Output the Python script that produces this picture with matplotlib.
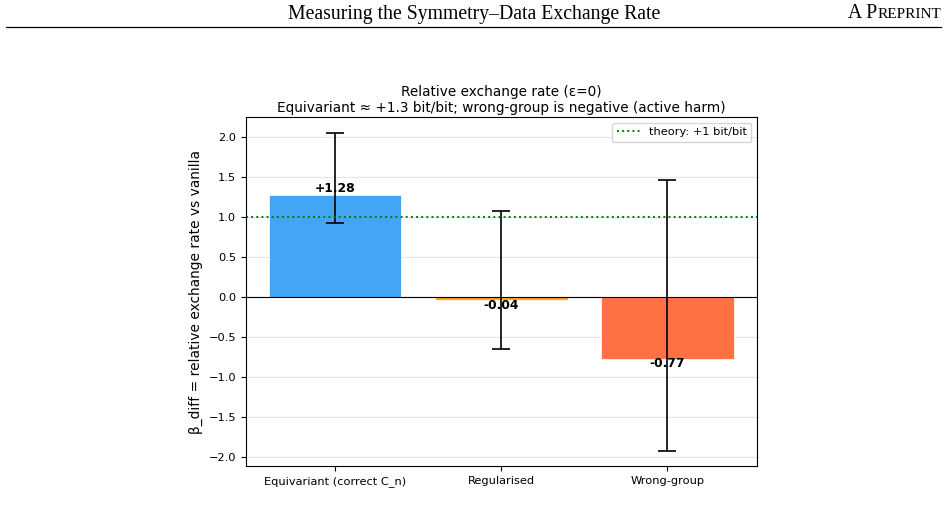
import matplotlib.pyplot as plt
from matplotlib.lines import Line2D

# data
groups = ['Equivariant (correct C_n)', 'Regularised', 'Wrong-group']
beta_diff = [1.28, -0.04, -0.77]
err_low = [0.355, 0.61, 1.155]
err_high = [0.77, 1.115, 2.23]
bar_colors = ['#42A5F5', '#FFA726', '#FF7043']
value_labels = ['+1.28', '-0.04', '-0.77']
theory_rate = 1.0

W, H = 948, 505
fig = plt.figure(figsize=(W / 100, H / 100), dpi=100)

# page header
fig.text(474 / W, 1 - 14 / H, 'Measuring the Symmetry\u2013Data Exchange Rate',
         ha='center', va='center', family='Liberation Serif', fontsize=14.2)
hdr = fig.text(941 / W, 1 - 14 / H, 'REPRINT', ha='right', va='center',
               family='Liberation Serif', fontsize=11)
fig.canvas.draw()
bb = hdr.get_window_extent()
fig.text(bb.x0 / W, 1 - 14 / H, 'A P', ha='right', va='center',
         family='Liberation Serif', fontsize=14.2)
fig.add_artist(Line2D([6 / W, 941 / W], [1 - 27 / H, 1 - 27 / H],
                      transform=fig.transFigure, color='black', lw=0.9))

ax = fig.add_axes([246 / W, 1 - 466 / H, (757 - 246) / W, (466 - 117) / H])
x = range(len(groups))
ax.bar(x, beta_diff, width=0.8, color=bar_colors, edgecolor='white', linewidth=0.5,
       yerr=[err_low, err_high], capsize=6.5,
       error_kw=dict(elinewidth=1.2, capthick=1.2, ecolor='black'))
ax.axhline(0, color='black', lw=0.8)
ax.axhline(theory_rate, color='green', ls=':', lw=1.4, label='theory: +1 bit/bit')

for i, v in enumerate(beta_diff):
    if v >= 0:
        ax.text(i, v - 0.01, value_labels[i], ha='center', va='bottom',
                fontweight='bold', fontsize=8.9)
    else:
        ax.text(i, v + 0.02, value_labels[i], ha='center', va='top',
                fontweight='bold', fontsize=8.9)

ax.set_xticks(list(x))
ax.set_xticklabels(groups, fontsize=8.2)
ax.tick_params(axis='y', labelsize=8.2)
ax.set_ylabel('\u03b2_diff = relative exchange rate vs vanilla', fontsize=9.9)
ax.set_title('Relative exchange rate (\u03b5=0)\n'
             'Equivariant \u2248 +1.3 bit/bit; wrong-group is negative (active harm)',
             fontsize=9.8, pad=3.5)
ax.yaxis.grid(True, alpha=0.3)
ax.set_axisbelow(True)
ax.set_ylim(-2.1125, 2.25)
ax.set_xlim(-0.536, 2.54)
ax.legend(loc='upper right', fontsize=8.2)

fig.savefig('out.png', dpi=100)
